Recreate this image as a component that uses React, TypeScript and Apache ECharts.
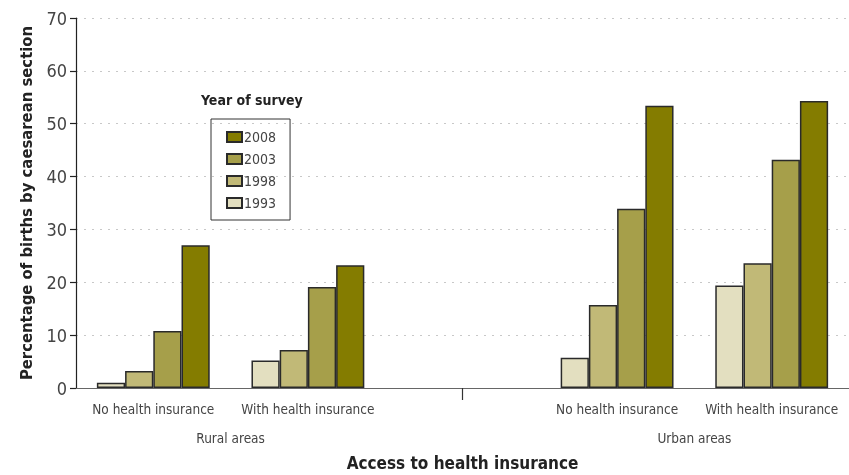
import React, { useEffect, useRef } from "react";
import * as echarts from "echarts";

const categories = ["No health insurance", "With health insurance", "", "No health insurance", "With health insurance"];
const areaLabels: Record<number, string> = { 1: "Rural areas", 4: "Urban areas" };
const years = ["1993", "1998", "2003", "2008"];
const v1993 = [1.0, 5.2, null, 5.7, 19.4];
const v1998 = [3.2, 7.2, null, 15.7, 23.6];
const v2003 = [10.8, 19.1, null, 33.9, 43.2];
const v2008 = [27.0, 23.2, null, 53.4, 54.3];
const seriesValues = [v1993, v1998, v2003, v2008];
const colors = ["#E3DFC0", "#C1B977", "#A69F4A", "#847C00"];

const FONT = "'DejaVu Sans Condensed', 'Liberation Sans Narrow', sans-serif";

export default function App() {
  const ref = useRef<HTMLDivElement>(null);
  useEffect(() => {
    const chart = echarts.init(ref.current!, null, { renderer: "svg" });
    chart.setOption({
      animation: false,
      textStyle: { fontFamily: FONT },
      title: {
        text: "Year of survey",
        left: 201,
        top: 93,
        padding: 0,
        textStyle: { fontFamily: FONT, fontWeight: "bold", fontSize: 14, color: "#222" },
      },
      legend: {
        data: ["2008", "2003", "1998", "1993"],
        orient: "vertical",
        left: 211,
        top: 119,
        padding: [11, 14, 10, 15],
        itemWidth: 15,
        itemHeight: 10,
        itemGap: 8,
        icon: "rect",
        borderColor: "#333",
        borderWidth: 1,
        textStyle: { fontFamily: FONT, fontSize: 14, color: "#444", padding: [0, 0, 0, -3] },
      },
      grid: { left: 76, right: 0, top: 18, bottom: 87, outerBoundsMode: "none" },
      xAxis: [
        {
          type: "category",
          data: categories,
          axisLine: { lineStyle: { color: "#666", width: 1.2 } },
          axisTick: {
            show: true,
            alignWithLabel: true,
            length: 12,
            interval: (i: number) => i === 2,
            lineStyle: { color: "#333", width: 1.2 },
          },
          axisLabel: { interval: 0, margin: 14, fontSize: 13.5, color: "#444", fontFamily: FONT },
          name: "Access to health insurance",
          nameLocation: "middle",
          nameGap: 66,
          nameTextStyle: { fontFamily: FONT, fontWeight: "bold", fontSize: 17, color: "#222" },
        },
        {
          type: "value",
          position: "bottom",
          min: 0,
          max: 5,
          interval: 1,
          axisLine: { show: false },
          axisTick: { show: false },
          splitLine: { show: false },
          axisLabel: {
            margin: 43,
            fontSize: 13.5,
            color: "#444",
            fontFamily: FONT,
            showMinLabel: true,
            showMaxLabel: true,
            formatter: (v: number) => areaLabels[Math.round(v)] || "",
          },
        },
      ],
      yAxis: {
        type: "value",
        min: 0,
        max: 70,
        interval: 10,
        axisLine: { show: true, lineStyle: { color: "#222", width: 1.2 } },
        axisTick: { show: true, length: 6, lineStyle: { color: "#222", width: 1.2 } },
        axisLabel: { fontSize: 18, color: "#444", margin: 9, fontFamily: FONT },
        splitLine: { show: true, lineStyle: { color: "#c8c8c8", type: [2, 6], width: 1.2 } },
        name: "Percentage of births by caesarean section",
        nameLocation: "middle",
        nameGap: 40,
        nameTextStyle: { fontFamily: FONT, fontWeight: "bold", fontSize: 16.5, color: "#222" },
      },
      series: years.map((y, i) => ({
        name: y,
        type: "bar",
        xAxisIndex: 0,
        data: seriesValues[i],
        barGap: "0%",
        barCategoryGap: "27%",
        itemStyle: { color: colors[i], borderColor: "#2a2a2a", borderWidth: 1.5 },
      })),
    });
    return () => chart.dispose();
  }, []);
  return <div ref={ref} style={{ position: "fixed", left: 0, top: 0, width: 849, height: 475 }} />;
}
